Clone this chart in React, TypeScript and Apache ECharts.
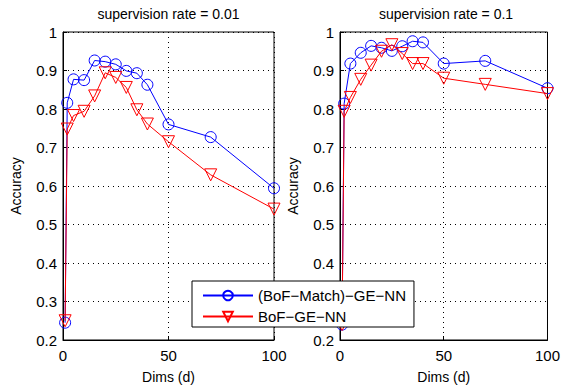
import React, { useEffect, useRef } from "react";
import * as echarts from "echarts";

const dims = [1, 2, 5, 10, 15, 20, 25, 30, 35, 40, 50, 70, 100];
const leftMatch = [0.245, 0.816, 0.877, 0.875, 0.926, 0.923, 0.916, 0.899, 0.893, 0.863, 0.76, 0.727, 0.594];
const leftBof = [0.25, 0.748, 0.783, 0.794, 0.834, 0.894, 0.882, 0.856, 0.798, 0.761, 0.715, 0.629, 0.54];
const rightMatch = [0.24, 0.814, 0.918, 0.946, 0.964, 0.959, 0.951, 0.963, 0.976, 0.973, 0.918, 0.925, 0.854];
const rightBof = [0.24, 0.794, 0.83, 0.877, 0.914, 0.95, 0.967, 0.944, 0.918, 0.918, 0.88, 0.864, 0.84];
const seriesNames = ["(BoF\u2212Match)\u2212GE\u2212NN", "BoF\u2212GE\u2212NN"];
const titles = ["supervision rate = 0.01", "supervision rate = 0.1"];

const FONT = "Liberation Sans, Arial, sans-serif";

export default function App() {
  const ref = useRef<HTMLDivElement>(null);
  useEffect(() => {
    if (!ref.current) return;
    const chart = echarts.init(ref.current, null, { renderer: "svg" });
    const grids = [
      { left: 63, top: 32, width: 211, height: 313 },
      { left: 340, top: 32, width: 212, height: 313 },
    ];
    const mkX = (i: number) => ({
      type: "value",
      gridIndex: i,
      min: 0,
      max: 100,
      interval: 50,
      name: "Dims (d)",
      nameLocation: "middle",
      nameGap: 30,
      nameTextStyle: { color: "#000", fontSize: 14, fontFamily: FONT },
      axisLine: { show: true, lineStyle: { color: "#000", width: 1 } },
      axisTick: { show: true, inside: true, length: 4, lineStyle: { color: "#000" } },
      axisLabel: { color: "#000", fontSize: 15, fontFamily: FONT, margin: 8 },
      splitLine: { show: true, lineStyle: { color: "#000", type: [1, 4], width: 1 } },
    });
    const mkY = (i: number) => ({
      type: "value",
      gridIndex: i,
      min: 0.2,
      max: 1,
      interval: 0.1,
      name: "Accuracy",
      nameLocation: "middle",
      nameGap: 40,
      nameTextStyle: { color: "#000", fontSize: 14, fontFamily: FONT },
      axisLine: { show: true, lineStyle: { color: "#000", width: 1 } },
      axisTick: { show: true, inside: true, length: 4, lineStyle: { color: "#000" } },
      axisLabel: {
        color: "#000",
        fontSize: 15,
        fontFamily: FONT,
        margin: 6,
        formatter: (v: number) => {
          const r = Math.round(v * 10) / 10;
          return r === 1 ? "1" : r.toFixed(1);
        },
      },
      splitLine: { show: true, lineStyle: { color: "#000", type: [1, 4], width: 1 } },
    });
    const mkSeries = (name: string, data: number[], i: number, blue: boolean) => ({
      type: "line",
      name,
      xAxisIndex: i,
      yAxisIndex: i,
      data: dims.map((d, k) => [d, data[k]]),
      symbol: blue ? "circle" : "triangle",
      symbolRotate: blue ? 0 : 180,
      symbolSize: blue ? 11 : 12,
      showAllSymbol: true,
      lineStyle: { color: blue ? "#0000ff" : "#ff0000", width: 1 },
      itemStyle: { color: "rgba(255,255,255,0)", borderColor: blue ? "#0000ff" : "#ff0000", borderWidth: 1 },
      emphasis: { disabled: true },
      z: blue ? 2 : 3,
    });
    chart.setOption({
      animation: false,
      grid: grids.map((g) => ({ ...g, show: true, borderColor: "#000", borderWidth: 1, backgroundColor: "#fff" })),
      xAxis: [mkX(0), mkX(1)],
      yAxis: [mkY(0), mkY(1)],
      graphic: titles.map((t, i) => ({
        type: "text",
        x: grids[i].left + grids[i].width / 2,
        y: 14,
        style: { text: t, fill: "#000", font: `14px ${FONT}`, textAlign: "center", textVerticalAlign: "middle" },
      })),
      legend: {
        left: 192,
        top: 281,
        width: 225,
        orient: "vertical",
        backgroundColor: "#fff",
        borderColor: "#000",
        borderWidth: 1,
        borderRadius: 0,
        padding: [7, 8, 3, 10],
        itemGap: 6,
        itemWidth: 50,
        itemHeight: 12,
        data: seriesNames,
        textStyle: { color: "#000", fontSize: 15, fontFamily: FONT },
        z: 10,
      },
      series: [
        mkSeries(seriesNames[0], leftMatch, 0, true),
        mkSeries(seriesNames[1], leftBof, 0, false),
        mkSeries(seriesNames[0], rightMatch, 1, true),
        mkSeries(seriesNames[1], rightBof, 1, false),
      ],
    });
    return () => chart.dispose();
  }, []);
  return (
    <div
      ref={ref}
      style={{ position: "fixed", left: 0, top: 0, width: 563, height: 389, background: "#fff" }}
    />
  );
}
